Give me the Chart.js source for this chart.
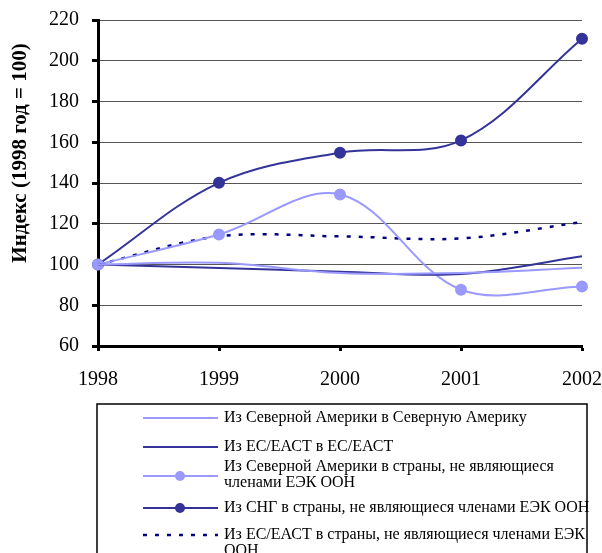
<!DOCTYPE html>
<html><head><meta charset="utf-8">
<script src="https://cdn.jsdelivr.net/npm/chart.js@4.4.1/dist/chart.umd.min.js"></script>
<style>html,body{margin:0;padding:0;background:#fff;}#wrap{width:602px;height:553px;position:relative;}</style>
</head><body><div id="wrap"><canvas id="c" width="602" height="553"></canvas></div>
<script>
const years = ["1998", "1999", "2000", "2001", "2002"];
const yTicks = [60, 80, 100, 120, 140, 160, 180, 200, 220];
const seriesNames = [
  ["Из Северной Америки в Северную Америку"],
  ["Из ЕС/ЕАСТ в ЕС/ЕАСТ"],
  ["Из Северной Америки в страны, не являющиеся", "членами ЕЭК ООН"],
  ["Из СНГ в страны, не являющиеся членами ЕЭК ООН"],
  ["Из ЕС/ЕАСТ в страны, не являющиеся членами ЕЭК", "ООН"]
];
const naToNa = [100, 100.8, 95.8, 95.8, 98.4];
const euToEu = [100, 98.3, 96.5, 95.3, 104];
const naToNonUnece = [100, 114.7, 134.4, 87.6, 89.2];
const cisToNonUnece = [100, 140.1, 154.9, 160.9, 210.8];
const euToNonUnece = [100, 113.8, 113.8, 112.8, 120.8];
const axisTitle = "Индекс (1998 год = 100)";

const LIGHT = '#9999FF', DARK = '#333399', NAVY = '#000080';
const serif = "'Liberation Serif', 'Times New Roman', serif";
const T = 0.35;

const datasets = [
  {label: seriesNames[0].join(' '), data: naToNa, borderColor: LIGHT, backgroundColor: LIGHT, borderWidth: 2, pointRadius: 0, tension: T},
  {label: seriesNames[1].join(' '), data: euToEu, borderColor: DARK, backgroundColor: DARK, borderWidth: 2, pointRadius: 0, tension: T},
  {label: seriesNames[2].join(' '), data: naToNonUnece, borderColor: LIGHT, backgroundColor: LIGHT, borderWidth: 2, pointRadius: 5, pointBackgroundColor: LIGHT, pointBorderColor: LIGHT, tension: T},
  {label: seriesNames[3].join(' '), data: cisToNonUnece, borderColor: DARK, backgroundColor: DARK, borderWidth: 2, pointRadius: 5, pointBackgroundColor: DARK, pointBorderColor: DARK, tension: T},
  {label: seriesNames[4].join(' '), data: euToNonUnece, borderColor: NAVY, backgroundColor: NAVY, borderWidth: 2.5, borderDash: [4, 8], pointRadius: 0, tension: T}
].map(d => Object.assign({clip: false, fill: false}, d));

const legendPlugin = {
  id: 'boxLegend',
  afterDraw(chart) {
    const ctx = chart.ctx;
    ctx.save();
    // axis title
    ctx.save();
    ctx.translate(21, 153);
    ctx.rotate(-Math.PI / 2);
    ctx.font = "bold 21px " + serif;
    ctx.fillStyle = '#000';
    ctx.textAlign = 'center';
    ctx.textBaseline = 'middle';
    ctx.fillText(axisTitle, 0, 0);
    ctx.restore();

    ctx.strokeStyle = '#000';
    ctx.lineWidth = 1.5;
    ctx.strokeRect(97, 404, 490, 200);
    const rows = [
      {sy: 418, ty: [418]},
      {sy: 447, ty: [447]},
      {sy: 476, ty: [467, 483]},
      {sy: 508, ty: [508]},
      {sy: 535, ty: [535, 551]}
    ];
    ctx.font = "16px " + serif;
    ctx.textBaseline = 'middle';
    ctx.textAlign = 'left';
    chart.data.datasets.forEach((ds, i) => {
      const r = rows[i];
      ctx.save();
      ctx.strokeStyle = ds.borderColor;
      ctx.lineWidth = ds.borderWidth;
      ctx.setLineDash(ds.borderDash || []);
      ctx.beginPath();
      ctx.moveTo(143, r.sy);
      ctx.lineTo(218, r.sy);
      ctx.stroke();
      ctx.setLineDash([]);
      if (ds.pointRadius > 0) {
        ctx.fillStyle = ds.pointBackgroundColor;
        ctx.beginPath();
        ctx.arc(180, r.sy, 5, 0, Math.PI * 2);
        ctx.fill();
      }
      ctx.restore();
      ctx.fillStyle = '#000';
      seriesNames[i].forEach((line, j) => ctx.fillText(line, 224, r.ty[j]));
    });
    ctx.restore();
  }
};

new Chart(document.getElementById('c'), {
  type: 'line',
  data: {labels: years, datasets},
  plugins: [legendPlugin],
  options: {
    responsive: false,
    animation: false,
    events: [],
    layout: {padding: {left: 0, right: 20, top: 20, bottom: 0}},
    plugins: {legend: {display: false}, tooltip: {enabled: false}},
    scales: {
      x: {
        type: 'category',
        offset: false,
        afterFit(s) { s.height = 207; s.paddingLeft = 0; s.paddingRight = 0; },
        grid: {display: true, drawOnChartArea: false, tickLength: 5, tickWidth: 3, tickColor: '#000', color: '#000'},
        border: {display: true, color: '#000', width: 3},
        ticks: {color: '#000', font: {family: serif, size: 20}, padding: 17, maxRotation: 0, autoSkip: false}
      },
      y: {
        min: 60, max: 220,
        afterFit(s) { s.width = 98; s.paddingTop = 0; s.paddingBottom = 0; },
        afterBuildTicks(s) { s.ticks = yTicks.map(v => ({value: v})); },
        grid: {color: '#555', lineWidth: 1, tickLength: 6, tickWidth: 3, tickColor: '#000'},
        border: {display: true, color: '#000', width: 3},
        ticks: {color: '#000', font: {family: serif, size: 20}, padding: 13},
        title: {display: false}
      }
    }
  }
});
</script></body></html>
